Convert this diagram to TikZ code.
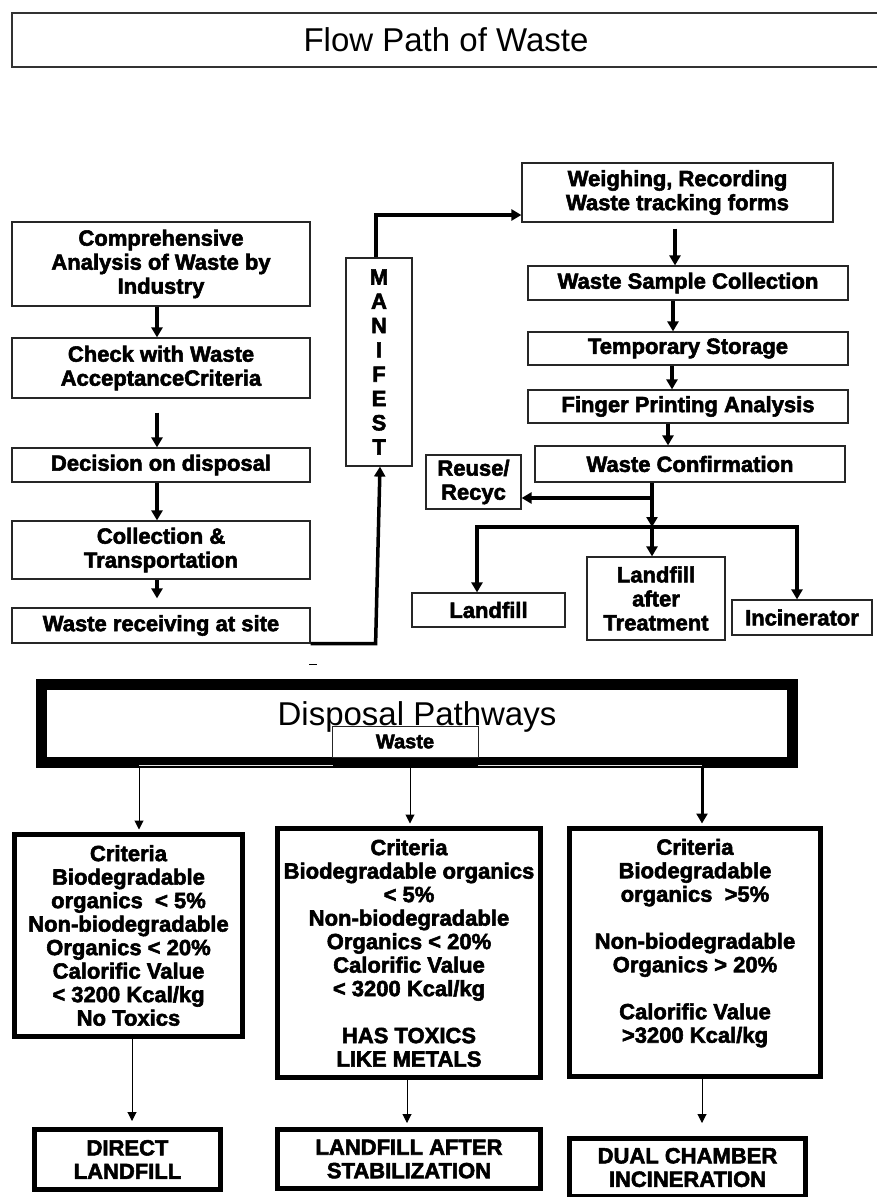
\documentclass[tikz,border=0pt]{standalone}
\usepackage{fontspec}
\setmainfont{Liberation Sans}
\newfontfamily\heavyfont{Liberation Sans Bold}[FakeBold=2.5]
\usetikzlibrary{arrows.meta}

\begin{document}
\begin{tikzpicture}[x=1pt,y=-1pt,
        box/.style={draw=black!85, line width=1.2pt, inner sep=2pt, align=center,
            font=\heavyfont\fontsize{22}{24}\selectfont},
        crit/.style={draw, line width=5pt, inner sep=2pt, align=center,
            font=\heavyfont\fontsize{22}{23.5}\selectfont},
        flow/.style={line width=3.5pt, -{Triangle[width=11pt,length=10pt]}},
        lean/.style={line width=1pt, -{Triangle[width=9pt,length=9pt]}},
        heading/.style={font=\fontsize{33}{36}\selectfont}]
        \useasboundingbox (0,0) rectangle (877,1197);

        \node[draw=black!80, line width=1.5pt, minimum width=868pt, minimum height=54pt, heading] (head) at (446,40) {Flow Path of Waste};

        % left column
        \node[box, minimum width=298pt, minimum height=84pt] (comp) at (161,264) {Comprehensive\\Analysis of Waste by\\Industry};
        \node[box, minimum width=298pt, minimum height=60pt] (check) at (161,368) {Check with Waste\\AcceptanceCriteria};
        \node[box, minimum width=298pt, minimum height=34pt] (decide) at (161,465) {Decision on disposal};
        \node[box, minimum width=298pt, minimum height=58pt] (collect) at (161,550) {Collection \&\\Transportation};
        \node[box, minimum width=298pt, minimum height=35pt] (receive) at (161,625.5) {Waste receiving at site};

        \draw[flow] ([xshift=-4pt]comp.south) -- ([xshift=-4pt]check.north);
        \draw[flow, shorten <=14pt] ([xshift=-4pt]check.south) -- ([xshift=-4pt]decide.north);
        \draw[flow] ([xshift=-4pt]decide.south) -- ([xshift=-4pt]collect.north);
        \draw[flow, shorten >=9pt] ([xshift=-4pt]collect.south) -- ([xshift=-4pt]receive.north);

        \node[box, minimum width=66pt, minimum height=208pt, font=\heavyfont\fontsize{22}{24.3}\selectfont] (manifest) at (379,362) {M\\A\\N\\I\\F\\E\\S\\T};

        % right column
        \node[box, minimum width=311pt, minimum height=59pt] (weigh) at (677.5,192.5) {Weighing, Recording\\Waste tracking forms};
        \node[box, minimum width=320pt, minimum height=34pt] (sample) at (688,283) {Waste Sample Collection};
        \node[box, minimum width=320pt, minimum height=33pt] (store) at (688,348.5) {Temporary Storage};
        \node[box, minimum width=320pt, minimum height=33pt] (finger) at (688,406.5) {Finger Printing Analysis};
        \node[box, minimum width=310pt, minimum height=36pt] (confirm) at (690,464) {Waste Confirmation};
        \node[box, minimum width=95pt, minimum height=54pt] (reuse) at (473.5,482) {Reuse/\\Recyc};
        \node[box, minimum width=153pt, minimum height=34pt] (land) at (488.5,610) {Landfill};
        \node[box, minimum width=138pt, minimum height=83pt] (treat) at (656,598.5) {Landfill\\after\\Treatment};
        \node[box, minimum width=140pt, minimum height=35pt] (incin) at (802,617.5) {Incinerator};

        \draw[flow] (receive.south east) -- ++(65,0) -- ([xshift=1pt]manifest.south);
        \draw[flow] ([xshift=-3pt]manifest.north) |- ([yshift=-22.5pt]weigh.west);

        \draw[flow, shorten <=6pt] ([xshift=-2.5pt]weigh.south) -- ([xshift=-2.5pt]weigh.south |- sample.north);
        \draw[flow] ([xshift=-15pt]sample.south) -- ([xshift=-15pt]store.north);
        \draw[flow] ([xshift=-16pt]store.south) -- ([xshift=-16pt]finger.north);
        \draw[flow] ([xshift=-20pt]finger.south) -- ([xshift=-22pt]confirm.north);

        \coordinate (fork) at (652,527);
        \coordinate (tee) at (652,498);
        \draw[flow] (confirm.south -| fork) -- (fork);
        \draw[flow] (tee) -- (reuse.east |- tee);
        \draw[flow] (fork) -| ([xshift=-11.5pt]land.north);
        \draw[flow] (fork) -- (fork |- treat.north);
        \draw[flow] (fork) -| ([xshift=-5pt]incin.north);

        \draw[line width=1pt] (309,664) -- (317,664);

        % disposal pathways
        \node[draw, line width=11pt, minimum width=751pt, minimum height=78pt] (disp) at (417,723.5) {};
        \node[heading, anchor=base, inner sep=0pt] (dptitle) at (417,725) {Disposal Pathways};
        \draw[gray!20, line width=1pt] (139,765) -- (333,765);
        \draw[gray!20, line width=1pt] (478,765) -- (702,765);
        \node[box, line width=0.8pt, fill=white, minimum width=146pt, minimum height=31pt, font=\heavyfont\fontsize{20}{22}\selectfont] (waste) at (405,741.5) {Waste};

        \node[crit, minimum width=228pt, minimum height=202pt] (c1) at (128.5,935.5) {Criteria\\Biodegradable\\organics~~< 5\%\\Non-biodegradable\\Organics < 20\%\\Calorific Value\\< 3200 Kcal/kg\\No Toxics};
        \node[crit, minimum width=263pt, minimum height=249pt] (c2) at (409,953) {Criteria\\Biodegradable organics\\< 5\%\\Non-biodegradable\\Organics < 20\%\\Calorific Value\\< 3200 Kcal/kg\\[23.5pt]HAS TOXICS\\LIKE METALS};
        \node[crit, minimum width=251pt, minimum height=248pt] (c3) at (695,952.5) {Criteria\\Biodegradable\\organics~~>5\%\\[23.5pt]Non-biodegradable\\Organics > 20\%\\[23.5pt]Calorific Value\\>3200 Kcal/kg\\\mbox{}};

        \node[crit, minimum width=186pt, minimum height=60pt] (b1) at (127.5,1159.5) {DIRECT\\LANDFILL};
        \node[crit, minimum width=263pt, minimum height=59pt] (b2) at (409,1159) {LANDFILL AFTER\\STABILIZATION};
        \node[crit, minimum width=236pt, minimum height=58pt] (b3) at (687.5,1167.5) {DUAL CHAMBER\\INCINERATION};

        \draw[lean, shorten >=2.5pt] ([xshift=10.5pt]c1.north |- disp.south) -- ([xshift=10.5pt]c1.north);
        \draw[lean, shorten >=2.5pt] ([xshift=1pt]c2.north |- disp.south) -- ([xshift=1pt]c2.north);
        \draw[flow, line width=3pt, shorten >=2.5pt] ([xshift=7pt]c3.north |- disp.south) -- ([xshift=7pt]c3.north);

        \draw[lean, shorten >=6pt] ([xshift=3.5pt]c1.south) -- ([xshift=3.5pt]c1.south |- b1.north);
        \draw[lean, shorten >=4pt] ([xshift=-2pt]c2.south) -- ([xshift=-2pt]c2.south |- b2.north);
        \draw[lean, shorten >=13pt] ([xshift=7pt]c3.south) -- ([xshift=7pt]c3.south |- b3.north);

    \end{tikzpicture}
\end{document}
